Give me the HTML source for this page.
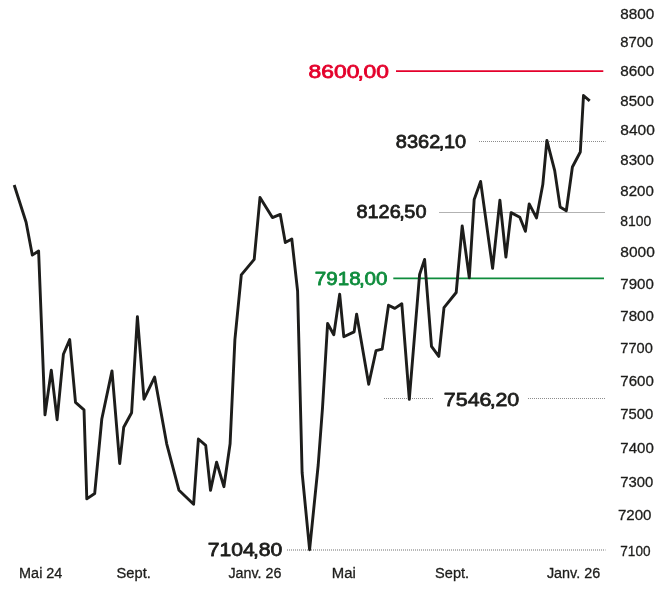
<!DOCTYPE html>
<html lang="fr">
<head>
<meta charset="utf-8">
<title>Graphique</title>
<style>
  html,body{margin:0;padding:0;background:#fff;}
  body{width:671px;height:590px;overflow:hidden;font-family:"Liberation Sans",sans-serif;}
  svg{display:block;}
  .ax text{font-family:"Liberation Sans",sans-serif;font-size:14.7px;fill:#1d1d1b;stroke:#1d1d1b;stroke-width:0.3px;}
  .big text{font-family:"Liberation Sans",sans-serif;font-size:18.7px;font-weight:normal;fill:#1d1d1b;stroke:#1d1d1b;stroke-width:0.78px;stroke-linejoin:round;}
</style>
</head>
<body>
<svg width="671" height="590" viewBox="0 0 671 590">
  <rect width="671" height="590" fill="#ffffff"/>
  <!-- reference lines -->
  <line x1="396" y1="71.1" x2="603.3" y2="71.1" stroke="#e4002b" stroke-width="1.6"/>
  <line x1="393.3" y1="278.4" x2="604" y2="278.4" stroke="#0e8c3c" stroke-width="1.6"/>
  <line x1="479" y1="141.5" x2="605.5" y2="141.5" stroke="#8c8c8c" stroke-width="1" stroke-dasharray="1 1"/>
  <line x1="439" y1="212.5" x2="605" y2="212.5" stroke="#b2b2b2" stroke-width="1"/>
  <line x1="384" y1="398.5" x2="434" y2="398.5" stroke="#8c8c8c" stroke-width="1" stroke-dasharray="1 1"/>
  <line x1="528" y1="398.5" x2="605.5" y2="398.5" stroke="#8c8c8c" stroke-width="1" stroke-dasharray="1 1"/>
  <line x1="287" y1="550" x2="605.5" y2="550" stroke="#a0a0a0" stroke-width="1.3" stroke-dasharray="1 1"/>
  <!-- price line -->
  <polyline fill="none" stroke="#1d1d1b" stroke-width="2.9" stroke-linejoin="round" stroke-linecap="butt" points="14.2,185.0 26.1,222.2 32.3,255.1 38.6,251.0 45.0,414.9 51.3,370.2 57.1,419.7 63.4,354.3 69.7,339.6 75.5,402.3 84.0,409.8 86.8,498.9 94.7,493.5 101.8,419.0 112.0,370.9 119.7,463.5 123.7,427.3 131.6,412.7 137.4,316.6 144.0,399.2 154.6,377.1 166.7,443.8 179.0,490.3 193.6,504.3 198.4,439.0 205.7,445.3 210.5,490.4 216.6,462.1 223.9,486.7 230.1,443.8 234.9,339.6 241.3,274.9 254.2,259.3 260.0,197.4 272.4,217.6 280.3,214.4 285.3,242.6 291.8,239.0 297.6,291.0 302.1,472.5 309.6,549.7 318.2,465.0 322.5,408.0 327.6,323.5 333.8,334.8 339.7,294.3 343.8,336.7 354.1,331.9 356.6,314.1 368.7,384.2 376.0,350.7 382.2,349.1 388.5,305.2 394.8,308.4 401.8,303.7 409.3,399.3 419.6,274.5 424.6,259.4 431.5,346.3 438.8,356.4 444.0,307.7 456.2,292.5 462.2,225.9 469.3,277.7 474.2,199.4 480.6,181.4 492.6,268.3 499.9,200.1 505.9,257.1 511.1,212.6 519.8,217.2 525.4,231.3 529.2,203.9 536.5,217.9 542.8,184.6 546.9,140.4 554.7,170.6 560.1,206.9 566.3,210.7 572.4,167.0 580.3,152.0 583.5,95.5 589.7,100.9"/>
  <!-- value labels -->
  <g class="big">
    <text x="308.6" y="77.6" textLength="80.4" lengthAdjust="spacingAndGlyphs" style="fill:#e4002b;stroke:#e4002b" dx="0 0 0 0 -1.5 -0.3 0">8600,00</text>
    <text x="395.8" y="147.8" textLength="70.4" lengthAdjust="spacingAndGlyphs" dx="0 0 0 0 -1.5 -0.3 0">8362,10</text>
    <text x="356.5" y="217.8" textLength="70.0" lengthAdjust="spacingAndGlyphs" dx="0 0 0 0 -1.5 -0.3 0">8126,50</text>
    <text x="314.8" y="284.9" textLength="72.6" lengthAdjust="spacingAndGlyphs" style="fill:#0e8c3c;stroke:#0e8c3c" dx="0 0 0 0 -1.5 -0.3 0">7918,00</text>
    <text x="443.8" y="405.8" textLength="75.5" lengthAdjust="spacingAndGlyphs" dx="0 0 0 0 -1.5 -0.3 0">7546,20</text>
    <text x="207.7" y="556.4" textLength="74.5" lengthAdjust="spacingAndGlyphs" dx="0 0 0 0 -1.5 -0.3 0">7104,80</text>
  </g>
  <!-- y axis -->
  <g class="ax">
    <text x="620.3" y="18.6" textLength="34.0" lengthAdjust="spacingAndGlyphs">8800</text>
    <text x="620.3" y="47.3" textLength="33.0" lengthAdjust="spacingAndGlyphs">8700</text>
    <text x="620.3" y="76.2" textLength="34.0" lengthAdjust="spacingAndGlyphs">8600</text>
    <text x="620.3" y="105.5" textLength="33.5" lengthAdjust="spacingAndGlyphs">8500</text>
    <text x="620.3" y="135.2" textLength="34.5" lengthAdjust="spacingAndGlyphs">8400</text>
    <text x="620.3" y="165.2" textLength="33.5" lengthAdjust="spacingAndGlyphs">8300</text>
    <text x="620.3" y="195.6" textLength="33.5" lengthAdjust="spacingAndGlyphs">8200</text>
    <text x="620.3" y="226.3" textLength="31.0" lengthAdjust="spacingAndGlyphs">8100</text>
    <text x="620.3" y="257.4" textLength="34.5" lengthAdjust="spacingAndGlyphs">8000</text>
    <text x="620.3" y="288.9" textLength="33.5" lengthAdjust="spacingAndGlyphs">7900</text>
    <text x="620.3" y="320.9" textLength="33.5" lengthAdjust="spacingAndGlyphs">7800</text>
    <text x="620.3" y="353.2" textLength="32.5" lengthAdjust="spacingAndGlyphs">7700</text>
    <text x="620.3" y="385.9" textLength="33.5" lengthAdjust="spacingAndGlyphs">7600</text>
    <text x="620.3" y="419.1" textLength="33.0" lengthAdjust="spacingAndGlyphs">7500</text>
    <text x="620.3" y="452.7" textLength="33.5" lengthAdjust="spacingAndGlyphs">7400</text>
    <text x="620.3" y="486.8" textLength="33.0" lengthAdjust="spacingAndGlyphs">7300</text>
    <text x="618" y="519.6" textLength="33.5" lengthAdjust="spacingAndGlyphs">7200</text>
    <text x="620.3" y="556.4" textLength="30.2" lengthAdjust="spacingAndGlyphs">7100</text>
  </g>
  <!-- x axis -->
  <g class="ax">
    <text x="19.1" y="578.1" textLength="43.3" lengthAdjust="spacingAndGlyphs">Mai 24</text>
    <text x="116.6" y="578.1" textLength="34.2" lengthAdjust="spacingAndGlyphs">Sept.</text>
    <text x="228.4" y="578.1" textLength="53.0" lengthAdjust="spacingAndGlyphs">Janv. 26</text>
    <text x="331.8" y="578.1" textLength="24.0" lengthAdjust="spacingAndGlyphs">Mai</text>
    <text x="435.1" y="578.1" textLength="34.0" lengthAdjust="spacingAndGlyphs">Sept.</text>
    <text x="546.9" y="578.1" textLength="53.3" lengthAdjust="spacingAndGlyphs">Janv. 26</text>
  </g>
</svg>
</body>
</html>
